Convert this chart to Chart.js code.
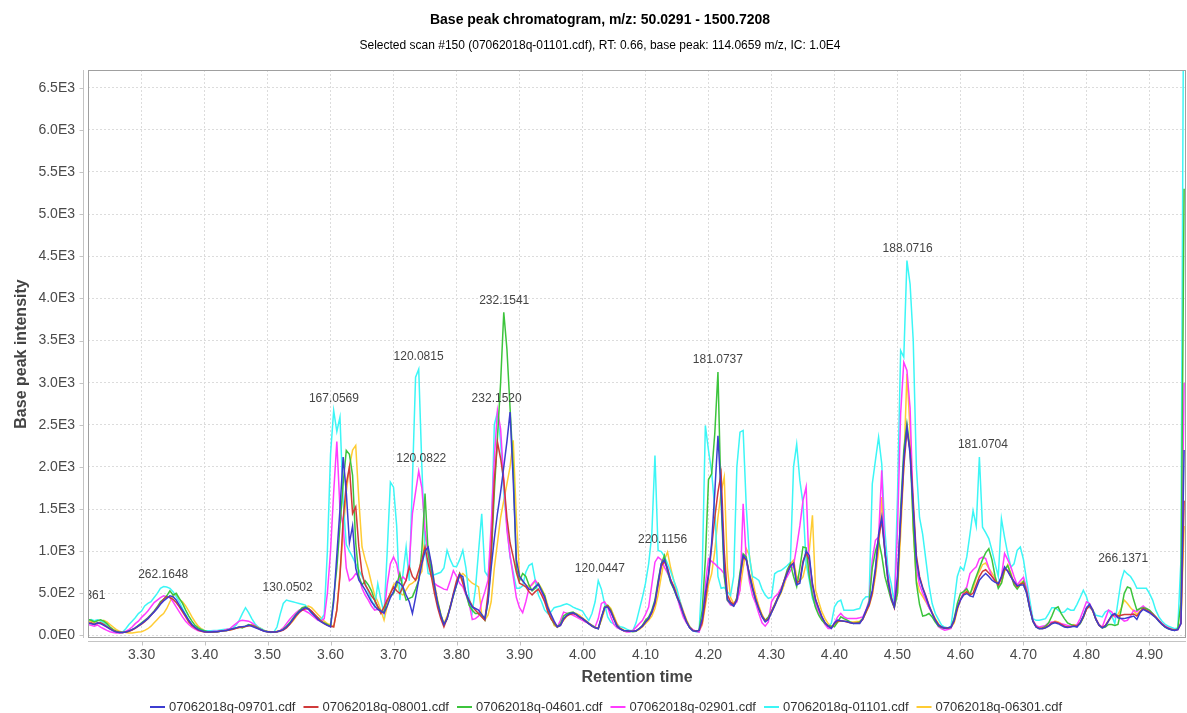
<!DOCTYPE html>
<html>
<head>
<meta charset="utf-8">
<title>Base peak chromatogram</title>
<script src="https://cdn.jsdelivr.net/npm/chart.js@4.4.1/dist/chart.umd.min.js"></script>
<style>
  html, body { margin: 0; padding: 0; background: #fff; overflow: hidden; }
  canvas { display: block; }
</style>
</head>
<body>
<canvas id="chart" width="1187" height="713"></canvas>
<script>
// Scans are sampled every 0.005 min starting at 3.215 min.
const SCAN_START = 3.215;
const SCAN_STEP = 0.005;

// Base peak intensity per scan, one row per 0.1 min.
const intensity09701 = [
  150,140,130,150,140,120,100,75,55,40,35,35,40,55,70,90,115,                       // 3.215
  140,170,200,240,280,320,370,410,440,470,460,420,360,300,240,180,130,95,70,55,     // 3.30
  45,40,40,45,45,50,55,60,70,80,90,100,105,110,120,110,95,80,65,50,                 // 3.40
  45,40,40,45,55,70,100,140,190,240,280,310,330,310,270,230,190,160,140,120,        // 3.50
  103,400,950,1500,2117,1700,1100,1300,800,656,600,540,470,400,350,310,290,265,350,450, // 3.60
  520,640,620,577,480,400,261,450,656,850,1000,1050,853,600,380,240,130,200,330,480, // 3.70
  600,720,700,500,400,340,320,300,250,200,400,800,1150,1450,1700,1999,2300,2650,1841,900, // 3.80
  700,650,600,550,540,580,610,530,450,330,250,170,103,120,200,240,260,270,250,220,  // 3.90
  200,170,140,110,90,80,220,330,340,280,190,110,75,60,55,50,50,55,80,110,           // 4.00
  160,200,280,400,620,850,900,780,640,560,460,370,260,160,90,55,50,60,200,500,      // 4.10
  732,1100,1700,2370,1700,800,430,380,350,420,700,950,900,720,560,420,310,220,160,190, // 4.20
  270,350,440,520,640,740,820,853,600,620,853,1000,950,600,420,320,220,150,110,83,  // 4.30
  150,182,175,170,165,150,142,142,142,200,300,380,537,800,1200,1406,1000,650,450,340, // 4.40
  700,1400,2100,2473,2150,1500,900,680,560,458,350,261,180,122,100,85,90,100,180,330, // 4.50
  420,480,498,470,458,560,656,700,735,700,656,630,616,700,814,760,695,640,590,600,  // 4.60
  600,500,320,170,100,80,80,90,110,140,150,140,120,100,95,100,110,100,150,230,      // 4.70
  330,370,300,190,120,90,110,170,240,260,210,200,200,210,220,230,190,270,310,290,   // 4.80
  270,240,210,170,130,100,80,65,60,70,140,2200                                      // 4.90
];
const intensity08001 = [
  140,150,130,145,150,130,105,80,60,45,35,35,40,50,65,85,110,
  135,165,200,240,280,330,380,430,460,450,430,390,340,280,220,160,120,90,65,50,
  40,40,40,40,45,50,55,60,65,75,85,95,100,105,115,120,100,85,65,50,
  45,40,40,45,50,65,90,130,180,230,270,300,315,320,290,250,210,170,140,120,
  110,103,300,700,1367,1800,1999,1446,1525,1051,735,600,537,470,419,340,261,340,419,500,
  577,530,498,580,656,814,700,656,774,900,1051,853,700,500,330,200,103,200,340,500,
  650,735,620,498,420,350,300,260,220,182,500,1000,1841,2295,2100,1841,1400,1100,932,750,
  620,600,577,520,480,520,550,480,400,280,200,150,103,120,190,230,250,260,245,220,
  200,170,140,110,90,85,210,330,350,290,200,120,80,60,55,50,50,55,80,110,
  160,200,270,380,600,820,880,800,660,580,470,380,270,170,95,60,50,60,150,400,
  700,1048,1400,1700,1920,1000,480,400,370,430,680,920,900,730,570,430,320,230,170,200,
  280,360,450,530,650,750,830,860,620,650,880,980,900,620,430,320,220,150,110,90,
  140,170,175,170,160,150,145,145,150,190,280,360,500,760,1150,1365,1000,640,440,330,
  650,1350,2000,2430,2200,1600,950,700,570,470,360,270,190,130,100,90,90,100,170,320,
  430,490,520,480,500,600,700,760,780,740,700,650,600,680,790,770,700,630,580,610,
  620,510,330,170,105,85,85,95,120,150,160,150,130,110,100,105,115,110,150,220,
  310,350,290,190,120,95,120,180,230,250,230,240,250,250,250,255,230,280,320,300,
  280,250,215,175,135,105,85,70,65,70,140,1600
];
const intensity04601 = [
  190,180,160,175,185,170,140,100,70,50,40,35,40,50,70,90,120,
  150,180,210,250,290,340,400,430,470,530,480,500,440,380,300,230,170,120,90,70,
  55,45,40,40,45,50,55,60,70,80,90,100,90,110,130,120,110,90,70,55,
  45,40,40,45,55,75,110,150,200,250,290,330,340,320,280,240,200,170,150,130,
  110,450,800,1300,1800,2196,2150,1900,1100,700,600,650,600,530,420,340,290,280,419,470,
  498,600,735,550,419,440,458,550,656,1011,1683,972,774,560,400,250,130,200,350,470,
  600,735,650,500,360,300,261,261,230,182,400,900,1700,2350,3000,3835,3400,2700,2000,800,
  650,735,700,600,530,560,616,540,470,300,200,140,100,140,230,260,270,277,250,220,
  200,170,140,120,100,80,200,340,356,300,200,110,80,60,55,50,45,50,80,119,
  180,218,300,420,650,850,950,760,630,550,450,370,260,170,100,60,55,60,300,900,
  1850,1919,2400,3125,1600,700,415,380,350,450,750,969,930,700,550,415,320,230,180,220,
  290,370,450,520,650,780,853,700,580,800,1050,1040,700,480,330,240,180,140,120,110,
  103,160,221,200,182,160,142,150,160,200,280,400,800,1000,1130,950,700,560,420,330,
  500,1500,2200,2512,2200,1300,620,370,230,240,261,220,160,110,95,85,85,95,200,379,
  500,520,555,480,600,700,800,900,980,1030,900,700,560,620,780,830,720,600,550,600,
  640,520,320,170,100,80,90,110,150,230,320,340,260,200,150,130,120,110,140,210,
  320,360,300,190,120,90,100,130,130,120,130,300,500,575,560,420,300,320,330,320,
  300,260,220,170,130,100,80,70,60,80,400,5300
];
const intensity02901 = [
  130,120,110,125,100,80,60,45,35,30,30,35,50,70,100,140,170,
  215,250,290,340,390,420,450,470,460,450,400,340,280,220,170,130,100,75,55,50,
  45,45,45,50,50,55,60,70,80,110,140,170,180,175,170,150,120,90,70,55,
  45,40,40,45,60,90,140,190,230,270,300,310,290,270,240,210,180,170,200,500,
  1000,1700,2300,1500,1300,800,650,680,735,700,560,480,420,350,300,310,300,260,600,850,
  930,850,650,695,656,853,1446,1700,1950,1750,1250,950,700,620,590,570,550,540,650,770,
  700,620,577,480,380,190,200,230,400,520,656,1300,2100,2670,2450,1841,1248,950,700,450,
  330,270,400,560,610,656,600,520,400,330,220,140,100,180,277,265,257,240,220,200,
  180,160,140,120,100,200,380,400,336,220,130,90,75,55,42,40,60,99,140,178,
  250,336,600,870,930,900,811,740,660,560,455,330,218,150,99,70,50,40,150,600,
  910,880,850,811,780,732,415,360,350,400,534,1563,900,640,470,380,257,150,110,160,
  400,460,490,560,640,700,770,830,1050,1300,1600,1762,735,500,380,280,200,130,83,83,
  150,221,261,220,201,201,201,201,210,221,300,419,900,1130,1169,1959,1000,700,450,340,
  1248,2631,3243,3144,2700,1500,800,600,500,419,330,261,180,103,80,63,70,83,200,340,
  419,520,577,735,780,814,910,930,912,800,700,656,600,700,972,900,814,700,600,650,
  690,560,340,180,120,100,110,120,150,160,160,150,140,130,120,110,110,130,200,300,
  400,380,300,200,130,100,200,300,280,220,230,200,170,180,230,300,280,320,350,320,
  290,260,220,180,140,110,90,75,65,70,150,3000
];
const intensity01101 = [
  180,190,175,185,170,150,120,90,60,45,35,40,80,130,170,210,260,
  290,350,380,400,450,500,560,580,575,560,520,460,400,320,250,180,130,100,80,70,
  60,55,55,60,60,65,70,75,80,90,120,180,260,330,270,200,140,100,80,60,
  45,35,40,100,250,380,420,410,400,390,380,370,360,310,260,230,210,190,250,1000,
  2150,2670,2420,2590,1600,1080,1000,930,850,775,700,620,520,420,340,615,420,260,1000,1820,
  1760,1300,420,730,1050,650,1840,3065,3160,2000,1050,735,720,720,735,750,800,1010,900,820,
  815,900,1010,800,450,280,550,1000,1445,760,700,1100,2500,2650,2300,1700,1300,930,750,560,
  560,590,750,830,855,655,480,400,300,260,280,330,340,350,365,375,360,336,320,305,
  290,230,178,260,400,650,550,376,220,158,135,119,105,95,75,60,60,150,300,450,
  620,850,1200,2136,1009,995,940,850,760,650,550,400,270,170,100,59,45,40,732,2492,
  2196,1938,1500,700,560,570,520,475,700,2000,2413,2433,1523,930,700,680,653,550,480,440,
  455,732,760,771,800,830,870,2000,2270,1840,1564,853,655,440,340,300,200,140,103,142,
  340,400,419,300,300,300,300,310,320,420,458,458,1800,2078,2354,2038,1248,774,616,379,
  1643,3381,3302,4448,4171,3500,2000,1400,1200,900,600,379,260,190,122,100,90,110,400,700,
  814,774,932,1200,1480,1300,2117,1285,1220,1150,1010,850,700,1385,1165,972,810,850,1011,1050,
  900,650,420,200,180,180,190,200,260,330,330,300,270,280,320,300,300,370,450,535,
  460,330,300,240,230,220,280,300,240,140,400,650,770,730,700,640,560,560,560,560,
  500,420,300,220,170,130,110,95,80,90,900,9000
];
const intensity06301 = [
  160,170,150,140,160,180,160,130,100,70,50,40,35,30,30,35,40,
  45,60,80,110,150,190,230,260,320,400,470,480,430,400,350,290,220,160,110,80,
  60,50,45,45,45,50,55,60,65,75,85,95,100,105,115,125,115,100,80,60,
  50,45,45,50,55,70,95,130,170,220,270,310,340,350,330,290,250,210,170,140,
  130,103,300,750,1200,1700,2000,2200,2255,1600,1050,900,780,620,480,400,300,182,350,500,
  600,640,500,480,540,600,620,656,700,760,1209,1000,853,620,420,250,142,230,320,480,
  620,700,735,700,656,620,600,577,250,182,240,400,800,1100,1400,1600,1800,2000,2315,1400,
  700,640,600,580,600,640,620,560,480,360,240,120,100,130,180,230,260,270,260,240,
  210,180,150,120,95,85,180,300,360,320,230,140,90,65,55,50,50,55,70,100,
  140,180,230,320,480,700,900,990,800,650,520,400,290,190,110,65,50,55,120,350,
  600,732,1000,1400,1700,1880,800,450,380,400,550,800,1030,950,650,480,350,250,180,200,
  270,350,430,500,600,720,850,893,700,650,695,850,1011,1426,537,400,280,200,140,110,
  120,160,175,170,165,160,160,165,170,200,270,350,480,700,1000,1643,1000,700,480,360,
  500,1200,2000,3105,2433,1248,656,520,460,400,330,270,200,140,100,85,85,95,150,300,
  430,500,540,500,560,680,760,840,860,800,740,680,600,620,760,840,740,620,560,620,
  650,530,330,180,110,85,80,90,110,140,170,160,140,110,100,110,130,120,150,220,
  320,360,310,200,130,95,110,170,220,240,250,320,420,380,330,290,250,290,320,300,
  280,250,220,180,140,110,90,80,70,80,160,1300
];

const seriesFiles = [
  '07062018q-09701.cdf', '07062018q-08001.cdf', '07062018q-04601.cdf',
  '07062018q-02901.cdf', '07062018q-01101.cdf', '07062018q-06301.cdf'
];
const seriesIntensities = [
  intensity09701, intensity08001, intensity04601,
  intensity02901, intensity01101, intensity06301
];

const retentionTimes = intensity09701.map((_, i) => +(SCAN_START + i * SCAN_STEP).toFixed(3));

// Axis ticks
const timeTicks = [3.3, 3.4, 3.5, 3.6, 3.7, 3.8, 3.9, 4.0, 4.1, 4.2, 4.3, 4.4, 4.5, 4.6, 4.7, 4.8, 4.9];
const intensityTicks = [0, 500, 1000, 1500, 2000, 2500, 3000, 3500, 4000, 4500, 5000, 5500, 6000, 6500];

// Base peak m/z annotations and the (time, intensity) point each one names
const peakLabels = ['361', '262.1648', '130.0502', '167.0569', '120.0815', '120.0822', '232.1541',
  '232.1520', '120.0447', '220.1156', '181.0737', '188.0716', '181.0704', '266.1371'];
const peakLabelTimes = [3.2268, 3.3344, 3.5319, 3.6054, 3.7398, 3.7440, 3.8757,
  3.8637, 4.0276, 4.1271, 4.2149, 4.5160, 4.6356, 4.8583];
const peakLabelIntensities = [330, 580, 420, 2670, 3160, 1950, 3835,
  2670, 650, 995, 3125, 4448, 2117, 770];

const chartTitle = 'Base peak chromatogram, m/z: 50.0291 - 1500.7208';
const chartSubtitle = 'Selected scan #150 (07062018q-01101.cdf), RT: 0.66, base peak: 114.0659 m/z, IC: 1.0E4';
const xTitle = 'Retention time';
const yTitle = 'Base peak intensity';

// Styling
const seriesColors = ['#3c3cd0', '#d03a3a', '#3cc43c', '#ff3cff', '#3cf6f6', '#ffcc33'];
const FONT = '"Liberation Sans", Arial, Helvetica, sans-serif';

function sciLabel(v) {
  if (v === 0) return '0.0E0';
  const e = Math.floor(Math.log10(Math.abs(v)));
  return (v / Math.pow(10, e)).toFixed(1) + 'E' + e;
}

const chromePlugin = {
  id: 'chromatogramChrome',
  beforeDraw(chart) {
    const c = chart.ctx;
    c.save();
    c.fillStyle = '#ffffff';
    c.fillRect(0, 0, chart.width, chart.height);
    c.restore();
  },
  afterDatasetsDraw(chart) {
    const { ctx, chartArea: a, scales: { x, y } } = chart;
    ctx.save();
    ctx.beginPath();
    ctx.rect(a.left, a.top, a.right - a.left, a.bottom - a.top);
    ctx.clip();
    ctx.font = '12px ' + FONT;
    ctx.fillStyle = '#444444';
    ctx.textAlign = 'center';
    ctx.textBaseline = 'middle';
    peakLabels.forEach((txt, i) => {
      ctx.fillText(txt, x.getPixelForValue(peakLabelTimes[i]), y.getPixelForValue(peakLabelIntensities[i]) - 12);
    });
    ctx.restore();
  },
  afterDraw(chart) {
    const { ctx, chartArea: a, scales: { x, y } } = chart;
    const W = chart.width;
    ctx.save();

    // plot outline
    ctx.strokeStyle = '#a0a0a0';
    ctx.lineWidth = 1;
    ctx.strokeRect(a.left + 0.5, a.top + 0.5, a.right - a.left - 1, a.bottom - a.top - 1);

    // offset axis lines with outside tick marks
    ctx.strokeStyle = '#c4c4c4';
    const ax = a.left - 4.5, ay = a.bottom + 3.5;
    ctx.beginPath();
    ctx.moveTo(ax, a.top); ctx.lineTo(ax, a.bottom);
    ctx.moveTo(a.left, ay); ctx.lineTo(a.right, ay);
    y.ticks.forEach(t => {
      const py = Math.round(y.getPixelForValue(t.value)) + 0.5;
      ctx.moveTo(ax - 4, py); ctx.lineTo(ax, py);
    });
    x.ticks.forEach(t => {
      const px = Math.round(x.getPixelForValue(t.value)) + 0.5;
      ctx.moveTo(px, ay); ctx.lineTo(px, ay + 4);
    });
    ctx.stroke();

    // titles
    ctx.textAlign = 'center';
    ctx.textBaseline = 'middle';
    ctx.fillStyle = '#000000';
    ctx.font = 'bold 14px ' + FONT;
    ctx.fillText(chartTitle, 600, 20);
    ctx.font = '12px ' + FONT;
    ctx.fillText(chartSubtitle, 600, 46);

    // axis titles
    ctx.fillStyle = '#444444';
    ctx.font = 'bold 16px ' + FONT;
    ctx.fillText(xTitle, (a.left + a.right) / 2, 678);
    ctx.save();
    ctx.translate(22, (a.top + a.bottom) / 2);
    ctx.rotate(-Math.PI / 2);
    ctx.fillText(yTitle, 0, 0);
    ctx.restore();

    // legend
    ctx.font = '13px ' + FONT;
    const sw = 15, gap = 4, itemGap = 8;
    const widths = seriesFiles.map(n => sw + gap + ctx.measureText(n).width);
    const total = widths.reduce((s, w) => s + w, 0) + itemGap * (seriesFiles.length - 1);
    let lx = 606 - total / 2;
    const ly = 707;
    ctx.textAlign = 'left';
    seriesFiles.forEach((n, i) => {
      ctx.strokeStyle = seriesColors[i];
      ctx.lineWidth = 2;
      ctx.beginPath();
      ctx.moveTo(lx, ly); ctx.lineTo(lx + sw, ly);
      ctx.stroke();
      ctx.fillStyle = '#333333';
      ctx.fillText(n, lx + sw + gap, ly);
      lx += widths[i] + itemGap;
    });
    ctx.restore();
  }
};

new Chart(document.getElementById('chart').getContext('2d'), {
  type: 'line',
  data: {
    labels: retentionTimes,
    datasets: seriesFiles.map((name, i) => ({
      label: name,
      data: seriesIntensities[i],
      borderColor: seriesColors[i],
      backgroundColor: seriesColors[i],
      borderWidth: 1.5,
      pointRadius: 0,
      tension: 0,
      fill: false,
      clip: 0
    }))
  },
  options: {
    responsive: false,
    animation: false,
    devicePixelRatio: 1,
    layout: { padding: { left: 0, right: 1, top: 70, bottom: 0 } },
    plugins: {
      legend: { display: false },
      title: { display: false },
      tooltip: { enabled: false }
    },
    scales: {
      x: {
        type: 'linear',
        min: 3.215,
        max: 4.958,
        afterBuildTicks: s => { s.ticks = timeTicks.map(v => ({ value: v })); },
        afterFit: s => { s.height = 75; },
        grid: { color: '#dcdcdc', lineWidth: 1, drawTicks: false },
        border: { display: false, dash: [2, 2] },
        ticks: {
          autoSkip: false, maxRotation: 0, padding: 9,
          color: '#4a4a4a', font: { family: FONT, size: 14 },
          callback: v => Number(v).toFixed(2)
        }
      },
      y: {
        min: -30,
        max: 6710,
        afterBuildTicks: s => { s.ticks = intensityTicks.map(v => ({ value: v })); },
        afterFit: s => { s.width = 88; },
        grid: { color: '#dcdcdc', lineWidth: 1, drawTicks: false },
        border: { display: false, dash: [2, 2] },
        ticks: {
          padding: 13,
          color: '#4a4a4a', font: { family: FONT, size: 14 },
          callback: v => sciLabel(v)
        }
      }
    }
  },
  plugins: [chromePlugin]
});
</script>
</body>
</html>
